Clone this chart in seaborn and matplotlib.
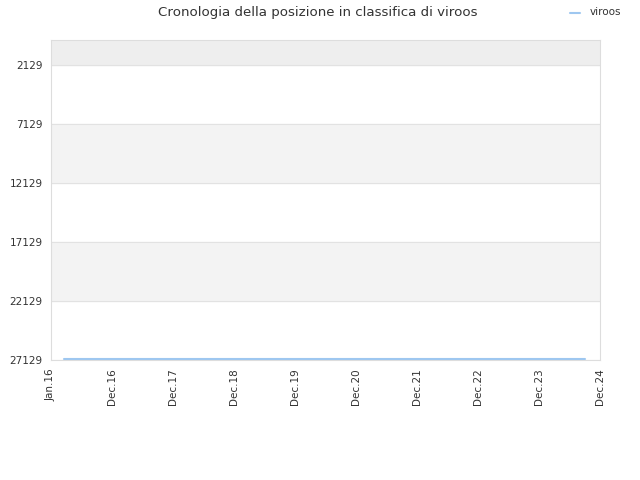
import matplotlib
matplotlib.use("Agg")
import matplotlib.pyplot as plt
import pandas as pd
import seaborn as sns

TITLE = "Cronologia della posizione in classifica di viroos"
PLAYER = "viroos"

# rank history (flat line near the bottom)
dates = ["2016-02-15", "2018-06-01", "2020-09-01", "2022-12-01", "2024-09-01"]
ranks = [27050, 27050, 27050, 27050, 27050]

y_ticks = [2129, 7129, 12129, 17129, 22129, 27129]
x_tick_dates = ["2015-12-01", "2016-12-01", "2017-12-01", "2018-12-01", "2019-12-01",
                "2020-12-01", "2021-12-01", "2022-12-01", "2023-12-01", "2024-12-01"]
x_tick_labels = ["Jan.16", "Dec.16", "Dec.17", "Dec.18", "Dec.19",
                 "Dec.20", "Dec.21", "Dec.22", "Dec.23", "Dec.24"]


def run():
    df = pd.DataFrame({"date": pd.to_datetime(dates), "rank": ranks, "player": PLAYER})

    sns.set_style("white")
    plt.rcParams["font.family"] = ["DejaVu Sans"]

    fig = plt.figure(figsize=(6.4, 4.8), dpi=100)
    ax = fig.add_axes([0.0797, 0.25, 0.8578, 0.6667])

    # alternating bands
    ax.axhspan(0, y_ticks[0], color="#eeeeee", zorder=0)
    for i in range(1, len(y_ticks) - 1, 2):
        ax.axhspan(y_ticks[i], y_ticks[i + 1], color="#f3f3f3", zorder=0)
    for y in y_ticks:
        ax.axhline(y, color="#e2e2e2", lw=0.8, zorder=1)

    sns.lineplot(data=df, x="date", y="rank", hue="player", palette=["#9ec7f0"],
                 lw=1.5, ax=ax, legend=False, zorder=3)

    xt = pd.to_datetime(x_tick_dates)
    ax.set_xlim(xt[0], xt[-1])
    ax.set_ylim(y_ticks[-1], 0)
    ax.set_yticks(y_ticks)
    ax.set_yticklabels([str(v) for v in y_ticks], fontsize=7.5, color="#333333")
    ax.set_xticks(xt)
    ax.set_xticklabels(x_tick_labels, rotation=90, fontsize=7.5, color="#333333")
    ax.tick_params(length=0, pad=6)
    ax.set_xlabel("")
    ax.set_ylabel("")
    for s in ax.spines.values():
        s.set_color("#dddddd")
        s.set_linewidth(0.8)

    fig.text(0.497, 0.974, TITLE, ha="center", va="center", fontsize=9.6, color="#333333")
    fig.lines.append(plt.Line2D([0.891, 0.906], [0.972, 0.972], transform=fig.transFigure,
                                color="#9ec7f0", lw=1.5))
    fig.text(0.921, 0.974, PLAYER, ha="left", va="center", fontsize=7.5, color="#333333")

    fig.savefig("out.png", dpi=100)


if __name__ == "__main__":
    run()
